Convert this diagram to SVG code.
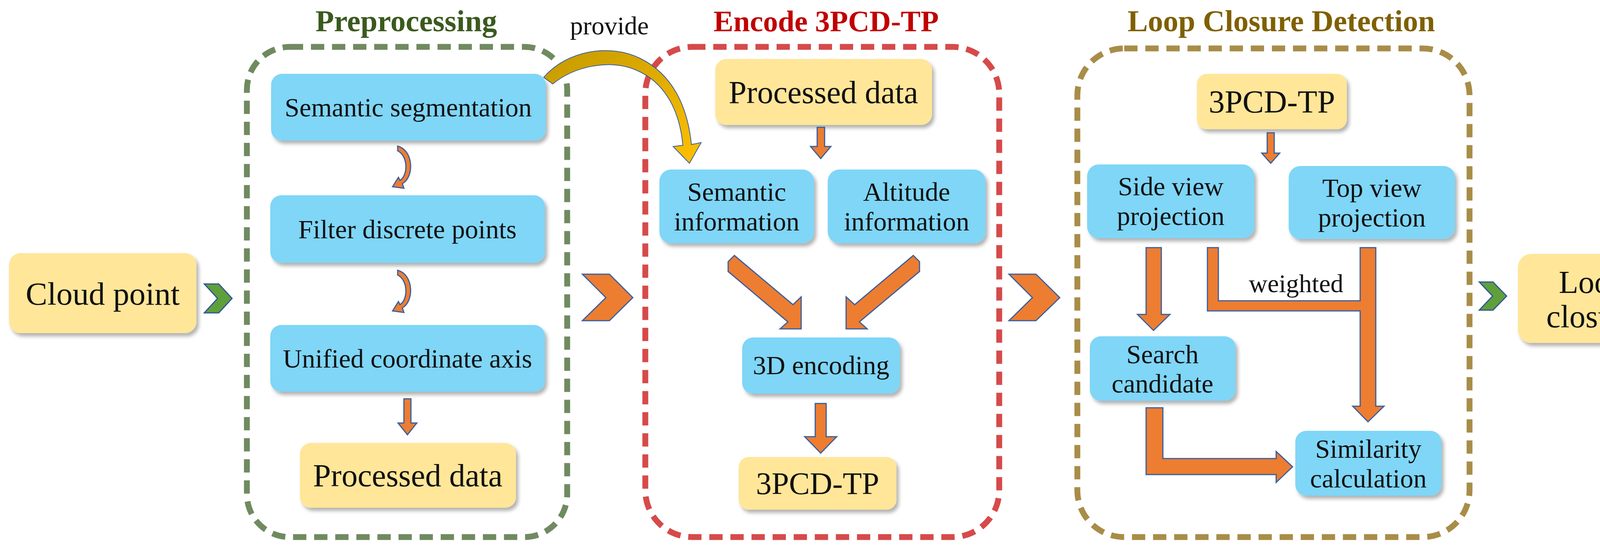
<svg xmlns="http://www.w3.org/2000/svg" width="4296" height="1403" viewBox="0 0 4296 1403">
<defs>
<filter id="sh" x="-10%" y="-10%" width="125%" height="130%"><feDropShadow dx="6" dy="8" stdDeviation="5" flood-color="#000" flood-opacity="0.3"/></filter>
<linearGradient id="gold" x1="0" y1="0" x2="1" y2="1"><stop offset="0" stop-color="#c49a00"/><stop offset="1" stop-color="#ffc000"/></linearGradient>
<style>
.b{fill:#7fd6f7;filter:url(#sh)}
.y{fill:#ffe699;filter:url(#sh)}
.t{font-family:"Liberation Serif","DejaVu Serif",serif;fill:#111;text-anchor:middle}
.s{font-size:68px}
.l{font-size:82px}
.h{font-size:78px;font-weight:bold}
.a{fill:#ed7d31;stroke:#3a5f9c;stroke-width:3}
.d{fill:none;stroke-width:15;stroke-dasharray:34 20}
</style>
</defs>
<g id="group-pre">
<rect class="d" x="632" y="120" width="820" height="1255" rx="110" stroke="#708a60"/>
<text class="t h" x="1040" y="80" style="fill:#3b5a1e">Preprocessing</text>
</g>
<g id="group-enc">
<rect class="d" x="1652" y="120" width="906" height="1255" rx="120" stroke="#d64a4a"/>
<text class="t h" x="2115" y="80" style="fill:#c00000;font-size:76px">Encode 3PCD-TP</text>
</g>
<g id="group-loop">
<rect class="d" x="2758" y="124" width="1004" height="1251" rx="120" stroke="#a88d48"/>
<text class="t h" x="3280" y="80" style="fill:#7f6000">Loop Closure Detection</text>
</g>
<g id="n-cloud"><rect class="y" x="23" y="648" width="480" height="205" rx="30"/><text class="t" style="font-size:83px" x="263" y="780">Cloud point</text></g>
<g id="n-seg"><rect class="b" x="694" y="189" width="703" height="171" rx="28"/><text class="t s" x="1045" y="298">Semantic segmentation</text></g>
<g id="n-filter"><rect class="b" x="692" y="500" width="703" height="173" rx="28"/><text class="t s" x="1043" y="610">Filter discrete points</text></g>
<g id="n-unified"><rect class="b" x="692" y="832" width="703" height="171" rx="28"/><text class="t s" x="1043" y="941">Unified coordinate axis</text></g>
<g id="n-proc1"><rect class="y" x="768" y="1134" width="553" height="166" rx="28"/><text class="t l" x="1044" y="1245">Processed data</text></g>
<g id="n-proc2"><rect class="y" x="1831" y="151" width="555" height="169" rx="28"/><text class="t l" x="2108" y="264">Processed data</text></g>
<g id="n-seminf"><rect class="b" x="1688" y="434" width="396" height="189" rx="30"/><text class="t s" x="1886" y="514">Semantic</text><text class="t s" x="1886" y="590">information</text></g>
<g id="n-altinf"><rect class="b" x="2119" y="434" width="404" height="189" rx="30"/><text class="t s" x="2321" y="514">Altitude</text><text class="t s" x="2321" y="590">information</text></g>
<g id="n-3d"><rect class="b" x="1900" y="864" width="404" height="144" rx="28"/><text class="t s" x="2102" y="958">3D encoding</text></g>
<g id="n-tp1"><rect class="y" x="1891" y="1170" width="404" height="135" rx="26"/><text class="t" style="font-size:80px" x="2093" y="1265">3PCD-TP</text></g>
<g id="n-tp2"><rect class="y" x="3064" y="189" width="384" height="142" rx="26"/><text class="t l" x="3256" y="288">3PCD-TP</text></g>
<g id="n-side"><rect class="b" x="2783" y="421" width="428" height="189" rx="30"/><text class="t s" x="2997" y="500">Side view</text><text class="t s" x="2997" y="576">projection</text></g>
<g id="n-top"><rect class="b" x="3299" y="425" width="426" height="187" rx="30"/><text class="t s" x="3512" y="504">Top view</text><text class="t s" x="3512" y="580">projection</text></g>
<g id="n-search"><rect class="b" x="2790" y="861" width="373" height="165" rx="28"/><text class="t s" x="2976" y="930">Search</text><text class="t s" x="2976" y="1005">candidate</text></g>
<g id="n-sim"><rect class="b" x="3316" y="1103" width="374" height="166" rx="28"/><text class="t s" x="3503" y="1172">Similarity</text><text class="t s" x="3503" y="1248">calculation</text></g>
<g id="n-loop"><rect class="y" x="3886" y="650" width="382" height="228" rx="34"/><text class="t" style="font-size:82px" x="4077" y="750">Loop</text><text class="t" style="font-size:82px" x="4077" y="838">closure</text></g>
<g id="connectors">
<polygon points="523,727 560,727 594,764 560,801 523,801 557,764" fill="#5fa03a" stroke="#2f5597" stroke-width="3"/>
<polygon points="1491,702 1560,702 1620,762 1560,821 1491,821 1551,762" class="a"/>
<polygon points="2583,702 2652,702 2713,762 2652,821 2583,821 2643,762" class="a"/>
<polygon points="3787,722 3822,722 3857,758 3822,794 3787,794 3821,758" fill="#5fa03a" stroke="#2f5597" stroke-width="3"/>
<path d="M1018,374 C1060,385 1060,455 1030,470 L1034,482 L1005,478 L1020,454 L1024,462 C1045,448 1045,400 1018,386 Z" class="a"/>
<path d="M1018,692 C1060,703 1060,773 1030,788 L1034,800 L1005,796 L1020,772 L1024,780 C1045,766 1045,718 1018,704 Z" class="a"/>
<polygon points="1034,1021 1052,1021 1052,1083 1067,1083 1043,1113 1019,1083 1034,1083" class="a"/>
<path d="M1392,198 C1450,130 1560,110 1640,150 C1720,190 1760,270 1770,370 L1795,365 L1765,418 L1723,375 L1748,372 C1740,280 1700,210 1630,180 C1560,150 1470,170 1415,215 Z" fill="url(#gold)" stroke="#3a5f9c" stroke-width="2"/>
<text class="t" style="font-size:66px" x="1560" y="88">provide</text>
<polygon points="2092,326 2111,326 2111,375 2127,375 2101,406 2075,375 2092,375" class="a"/>
<polygon points="1864,670 1880,654 2030,780 2051,760 2051,842 1997,842 2017,824 1864,695" class="a"/>
<polygon points="2354,670 2338,654 2188,780 2166,760 2166,842 2220,842 2200,824 2354,695" class="a"/>
<polygon points="2087,1033 2115,1033 2115,1118 2142,1118 2101,1160 2060,1118 2087,1118" class="a"/>
<polygon points="3244,340 3262,340 3262,392 3276,392 3253,418 3230,392 3244,392" class="a"/>
<polygon points="2934,634 2973,634 2973,805 2995,805 2953,846 2912,805 2934,805" class="a"/>
<polygon points="3091,634 3119,634 3119,770 3482,770 3482,634 3522,634 3522,1040 3543,1040 3502,1080 3463,1040 3482,1040 3482,796 3091,796" class="a"/>
<text class="t" style="font-size:66px" x="3318" y="748">weighted</text>
<polygon points="2934,1044 2977,1044 2977,1174 3267,1174 3267,1156 3309,1195 3267,1235 3267,1215 2934,1215" class="a"/>
</g>
</svg>
